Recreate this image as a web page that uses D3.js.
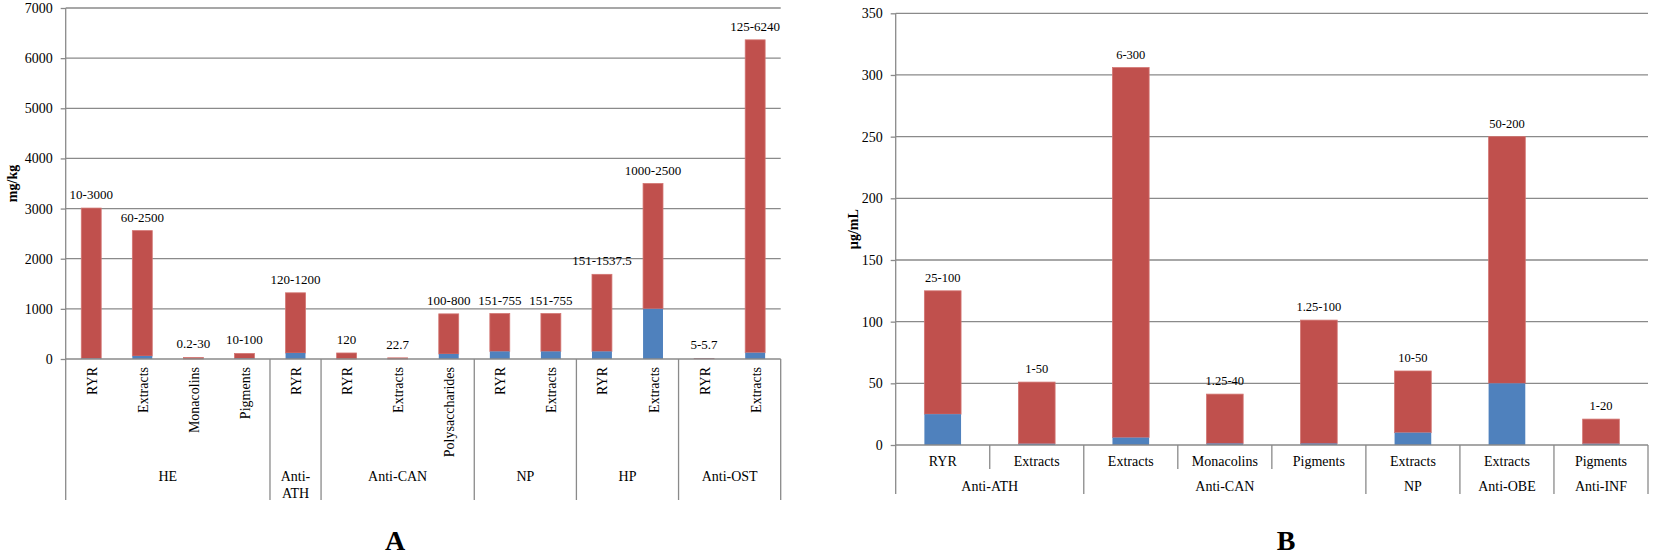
<!DOCTYPE html>
<html>
<head>
<meta charset="utf-8">
<script src="https://cdnjs.cloudflare.com/ajax/libs/d3/7.8.5/d3.min.js"></script>
<style>
  body { margin: 0; background: #fff; }
  svg text { font-family: "Liberation Serif", "Times New Roman", serif; fill: #000; }
</style>
</head>
<body>
<svg id="chart" width="1654" height="556"></svg>
<script>
// panel A, mg/kg
const groupsA = ["HE", "Anti-ATH", "Anti-CAN", "NP", "HP", "Anti-OST"];
const groupSizesA = [4, 1, 3, 2, 2, 2];
const categoriesA = ["RYR", "Extracts", "Monacolins", "Pigments", "RYR", "RYR", "Extracts", "Polysaccharides",
                     "RYR", "Extracts", "RYR", "Extracts", "RYR", "Extracts"];
const minA = [10, 60, 0.2, 10, 120, 0, 0, 100, 151, 151, 151, 1000, 5, 125];
const maxA = [3000, 2500, 30, 100, 1200, 120, 22.7, 800, 755, 755, 1537.5, 2500, 5.7, 6240];
const labelsA = ["10-3000", "60-2500", "0.2-30", "10-100", "120-1200", "120", "22.7", "100-800",
                 "151-755", "151-755", "151-1537.5", "1000-2500", "5-5.7", "125-6240"];
const ticksA = [0, 1000, 2000, 3000, 4000, 5000, 6000, 7000];

// panel B, µg/mL
const groupsB = ["Anti-ATH", "Anti-CAN", "NP", "Anti-OBE", "Anti-INF"];
const groupSizesB = [2, 3, 1, 1, 1];
const categoriesB = ["RYR", "Extracts", "Extracts", "Monacolins", "Pigments", "Extracts", "Extracts", "Pigments"];
const minB = [25, 1, 6, 1.25, 1.25, 10, 50, 1];
const maxB = [100, 50, 300, 40, 100, 50, 200, 20];
const labelsB = ["25-100", "1-50", "6-300", "1.25-40", "1.25-100", "10-50", "50-200", "1-20"];
const ticksB = [0, 50, 100, 150, 200, 250, 300, 350];

const red = "#c0504d";
const blue = "#4f81bd";
const gridColor = "#8a8a8a";

const svg = d3.select('#chart');

function drawPanel(p) {
    const n = p.categories.length;
    const x = d3.scaleBand()
        .domain(d3.range(n))
        .range([p.left, p.right])
        .paddingInner(0.61)
        .paddingOuter(0.305);
    const y = d3.scaleLinear()
        .domain([0, d3.max(p.ticks)])
        .range([p.bottom, p.top]);
    const g = svg.append('g');

    // gridlines
    g.append('g')
        .selectAll('line')
        .data(p.ticks.filter(t => t > 0))
        .join('line')
        .attr('x1', p.left)
        .attr('x2', p.right)
        .attr('y1', d => y(d))
        .attr('y2', d => y(d))
        .attr('stroke', gridColor)
        .attr('stroke-width', 1.3);

    const yAxis = d3.axisLeft(y).tickValues(p.ticks).tickSize(5).tickPadding(8).tickFormat(d3.format('d'));
    const ya = g.append('g')
        .attr('transform', `translate(${p.left},0)`)
        .call(yAxis)
        .attr('font-size', 14);
    ya.select('.domain').remove();
    ya.selectAll('.tick line').attr('stroke', gridColor).attr('stroke-width', 1.3);

    // axis title
    g.append('text')
        .attr('transform', `translate(${p.titleX},${(p.top + p.bottom) / 2}) rotate(-90)`)
        .attr('text-anchor', 'middle')
        .attr('dominant-baseline', 'central')
        .attr('font-size', 14)
        .attr('font-weight', 'bold')
        .text(p.yTitle);

    // stacked bars: blue = low end, red = high end
    const rows = p.categories.map((c, i) => ({ i: i, lo: p.min[i], hi: p.max[i], label: p.labels[i] }));

    g.append('g')
        .selectAll('rect')
        .data(rows)
        .join('rect')
        .attr('x', d => x(d.i))
        .attr('width', x.bandwidth())
        .attr('y', d => y(d.lo + d.hi))
        .attr('height', d => y(d.lo) - y(d.lo + d.hi))
        .attr('fill', red)
        .attr('stroke', '#d37572')
        .attr('stroke-width', 0.8);

    g.append('g')
        .selectAll('rect')
        .data(rows.filter(d => d.lo > 0))
        .join('rect')
        .attr('x', d => x(d.i))
        .attr('width', x.bandwidth())
        .attr('y', d => y(d.lo))
        .attr('height', d => y(0) - y(d.lo))
        .attr('fill', blue);

    g.append('g')
        .selectAll('text')
        .data(rows)
        .join('text')
        .attr('x', d => x(d.i) + x.bandwidth() / 2)
        .attr('y', d => y(d.lo + d.hi) - 9)
        .attr('text-anchor', 'middle')
        .attr('font-size', p.labelSize)
        .text(d => d.label);

    // category axis
    const y0 = y(0);
    g.append('line')
        .attr('x1', p.left).attr('x2', p.right)
        .attr('y1', y0).attr('y2', y0)
        .attr('stroke', gridColor).attr('stroke-width', 1.3);

    g.append('line')
        .attr('x1', p.left).attr('x2', p.left)
        .attr('y1', p.top).attr('y2', p.axisBottom)
        .attr('stroke', gridColor).attr('stroke-width', 1.3);

    const step = x.step();
    const starts = [0];
    p.groupSizes.forEach(s => starts.push(starts[starts.length - 1] + s));

    g.append('g')
        .selectAll('line')
        .data(starts.slice(1))
        .join('line')
        .attr('x1', d => p.left + d * step)
        .attr('x2', d => p.left + d * step)
        .attr('y1', y0)
        .attr('y2', p.axisBottom)
        .attr('stroke', gridColor)
        .attr('stroke-width', 1.3);

    if (p.innerBottom) {
        const inner = d3.range(1, n).filter(k => starts.indexOf(k) === -1);
        g.append('g')
            .selectAll('line')
            .data(inner)
            .join('line')
            .attr('x1', d => p.left + d * step)
            .attr('x2', d => p.left + d * step)
            .attr('y1', y0)
            .attr('y2', p.innerBottom)
            .attr('stroke', gridColor)
            .attr('stroke-width', 1.3);
    }

    const catText = g.append('g')
        .selectAll('text')
        .data(rows)
        .join('text')
        .attr('font-size', 14)
        .text(d => p.categories[d.i]);

    if (p.rotate) {
        catText
            .attr('transform', d => `translate(${x(d.i) + x.bandwidth() / 2 + 1},${p.catY}) rotate(-90)`)
            .attr('text-anchor', 'end')
            .attr('dominant-baseline', 'central');
    } else {
        catText
            .attr('x', d => x(d.i) + x.bandwidth() / 2)
            .attr('y', p.catY)
            .attr('text-anchor', 'middle')
            .attr('dominant-baseline', 'central');
    }

    // group labels, wrapped after the hyphen when the span is too narrow
    p.groups.forEach((name, k) => {
        const span = p.groupSizes[k] * step;
        const cx = p.left + (starts[k] + p.groupSizes[k] / 2) * step;
        const t = g.append('text')
            .attr('x', cx)
            .attr('y', p.groupY)
            .attr('text-anchor', 'middle')
            .attr('dominant-baseline', 'central')
            .attr('font-size', 14)
            .text(name);
        if (t.node().getComputedTextLength() > span - 4 && name.indexOf('-') > 0) {
            const cut = name.indexOf('-') + 1;
            t.text(null);
            t.append('tspan').attr('x', cx).text(name.slice(0, cut));
            t.append('tspan').attr('x', cx).attr('dy', 17).text(name.slice(cut));
        }
    });

    svg.append('text')
        .attr('x', p.letterX)
        .attr('y', 550)
        .attr('text-anchor', 'middle')
        .attr('font-size', 28)
        .attr('font-weight', 'bold')
        .text(p.letter);
}

drawPanel({
    categories: categoriesA, groups: groupsA, groupSizes: groupSizesA,
    min: minA, max: maxA, labels: labelsA, ticks: ticksA,
    left: 65.7, right: 780.7, top: 8, bottom: 359, axisBottom: 500,
    rotate: true, catY: 367, groupY: 476,
    yTitle: "mg/kg", titleX: 12, labelSize: 13,
    letter: "A", letterX: 395
});

drawPanel({
    categories: categoriesB, groups: groupsB, groupSizes: groupSizesB,
    min: minB, max: maxB, labels: labelsB, ticks: ticksB,
    left: 895.7, right: 1648, top: 13.3, bottom: 445, axisBottom: 494, innerBottom: 469,
    rotate: false, catY: 461.7, groupY: 486.7,
    yTitle: "µg/mL", titleX: 853, labelSize: 12.5,
    letter: "B", letterX: 1286
});
</script>
</body>
</html>
